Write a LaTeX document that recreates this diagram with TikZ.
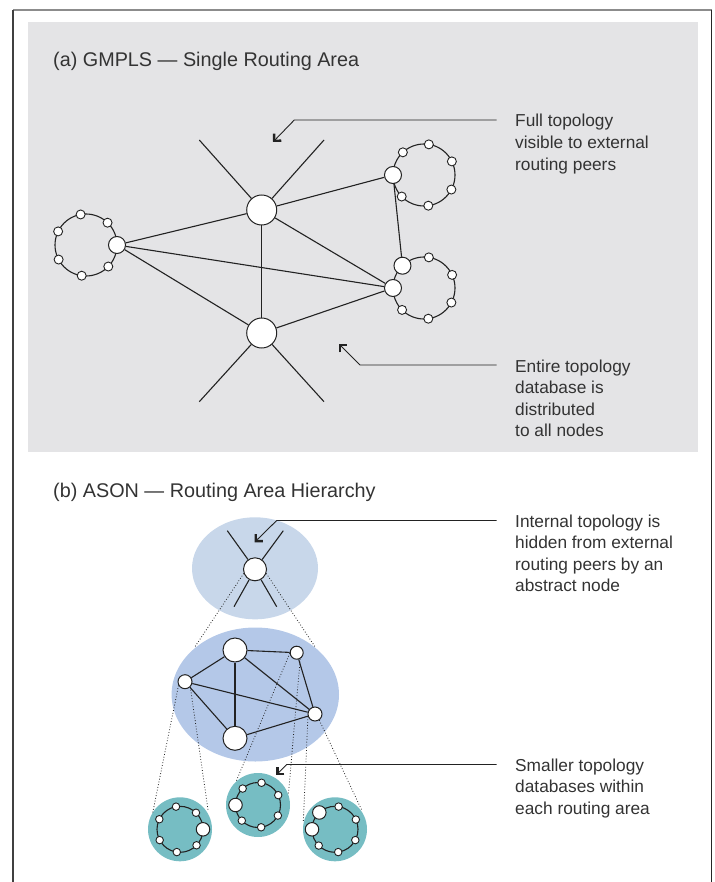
\documentclass[tikz,border=0pt]{standalone}
\usepackage{fontspec}
\setmainfont{Liberation Sans}
\usetikzlibrary{calc,arrows.meta}
\definecolor{ink}{HTML}{222222}
\definecolor{txt}{HTML}{333333}
\definecolor{panelgrey}{HTML}{E4E4E6}
\definecolor{areaA}{HTML}{C8D7EA}
\definecolor{areaB}{HTML}{B4C8E8}
\definecolor{areaC}{HTML}{76BDC3}
\newcommand\ringnodes[4]{%
  \foreach \a [count=\i] in {#4} \node[smN] (#3\i) at ($(#1)+(\a:#2)$) {};}
\newcommand\ringnodesB[4]{%
  \foreach \a [count=\i] in {#4} \node[tinyN] (#3\i) at ($(#1)+(\a:#2)$) {};}
\begin{document}
\begin{tikzpicture}[x=1pt,y=-1pt,
  edge/.style={line width=1.1pt, draw=ink},
  ringline/.style={line width=1.1pt, draw=ink},
  dots/.style={line width=0.8pt, draw=ink, dotted},
  bigN/.style={circle, draw=ink, fill=white, line width=1pt, inner sep=0pt, minimum size=30pt},
  abN/.style={circle, draw=ink, fill=white, line width=1pt, inner sep=0pt, minimum size=23pt},
  mbigN/.style={circle, draw=ink, fill=white, line width=1pt, inner sep=0pt, minimum size=24pt},
  midN/.style={circle, draw=ink, fill=white, line width=1pt, inner sep=0pt, minimum size=17pt},
  msmN/.style={circle, draw=ink, fill=white, line width=1pt, inner sep=0pt, minimum size=14pt},
  rbN/.style={circle, draw=ink, fill=white, line width=1pt, inner sep=0pt, minimum size=13.5pt},
  smN/.style={circle, draw=ink, fill=white, line width=0.9pt, inner sep=0pt, minimum size=9pt},
  tinyN/.style={circle, draw=ink, fill=white, line width=0.9pt, inner sep=0pt, minimum size=7.5pt},
  leader/.style={line width=0.9pt, draw=ink, -{Straight Barb[length=5pt,width=10pt,line width=2.4pt]}},
  note/.style={font=\fontsize{17.3}{21.6}\selectfont, text=txt, align=left, anchor=base west, inner sep=0pt},
  title/.style={font=\fontsize{19.8}{23}\selectfont, text=txt, anchor=base west, inner sep=0pt}
]
\useasboundingbox (0,0) rectangle (714,882);
% frame
\draw[line width=1.2pt, draw=black!45] (13,10) -- (712,10);
\draw[line width=1.2pt, draw=black!75] (13,10) -- (13,882);
\draw[line width=1.4pt, draw=black!85] (711.5,10) -- (711.5,882);
% panel (a)
\fill[panelgrey] (28,22) rectangle (698,452);
\node[title] (ta) at (53,67) {(a) GMPLS — Single Routing Area};

% rings (a)
\coordinate (c1) at (86,245);
\coordinate (c2) at (424,175);
\coordinate (c3) at (424,288);
\draw[ringline] (c1) circle (31pt);
\draw[ringline] (c2) circle (31pt);
\draw[ringline] (c3) circle (31pt);

\node[bigN] (T) at (261.7,210) {};
\node[bigN] (B) at (261.7,333) {};
\node[midN] (L) at ($(c1)+(0:31pt)$) {};
\node[midN] (UR) at ($(c2)+(180:31pt)$) {};
\node[midN] (LR1) at ($(c3)+(134:31pt)$) {};
\node[midN] (LR2) at ($(c3)+(180:31pt)$) {};
\ringnodes{c1}{31pt}{l}{46,100,154,208,262,316}
\ringnodes{c2}{31pt}{u}{133,81,26,-28,-82,-136}
\ringnodes{c3}{31pt}{d}{81,25,-28,-82,-135}

\coordinate (s1) at (199.3,140);
\coordinate (s2) at (324,140);
\coordinate (s3) at (199.3,401.7);
\coordinate (s4) at (324,401.7);
\draw[edge] (T) -- (s1);
\draw[edge] (T) -- (s2);
\draw[edge] (B) -- (s3);
\draw[edge] (B) -- (s4);
\draw[edge] (T) -- (L);
\draw[edge] (T) -- (UR);
\draw[edge] (T) -- (LR2);
\draw[edge] (T) -- (B);
\draw[edge] (L) -- (LR2);
\draw[edge] (L) -- (B);
\draw[edge] (B) -- (LR2);
\draw[edge] (UR) -- (LR1);

% annotations (a)
\coordinate (a1s) at (496.7,120);
\coordinate (a1k) at (294.3,120);
\coordinate (a1t) at (273,142);
\draw[leader] (a1s) -- (a1k) -- (a1t);
\node[note] (n1) at (515,170.2) {Full topology\\visible to external\\routing peers};
\coordinate (a2s) at (496.7,365);
\coordinate (a2k) at (360,365);
\coordinate (a2t) at (339,344);
\draw[leader] (a2s) -- (a2k) -- (a2t);
\node[note] (n2) at (515,436.8) {Entire topology\\database is\\distributed\\to all nodes};

% panel (b)
\node[title] (tb) at (53,497) {(b) ASON — Routing Area Hierarchy};
\fill[areaA] (255,568.3) ellipse [x radius=63pt, y radius=51pt];
\fill[areaB] (255.3,694.5) ellipse [x radius=83.7pt, y radius=67pt];

\node[abN] (A) at (255,569.3) {};
\coordinate (p1) at (227.3,530.7);
\coordinate (p2) at (283.3,530.7);
\coordinate (p3) at (234,606.7);
\coordinate (p4) at (276.7,606.7);
\draw[edge] (A) -- (p1);
\draw[edge] (A) -- (p2);
\draw[edge] (A) -- (p3);
\draw[edge] (A) -- (p4);
\coordinate (q1) at (195,646.7);
\coordinate (q2) at (315,646.7);
\draw[dots] (A.200) -- (q1);
\draw[dots] (A.340) -- (q2);

\node[mbigN] (M1) at (235,650) {};
\node[circle, draw=ink, fill=white, line width=1pt, inner sep=0pt, minimum size=13pt] (M2) at (296.7,652.7) {};
\node[msmN] (M3) at (185,681.7) {};
\node[msmN] (M4) at (315,714) {};
\node[mbigN] (M5) at (235,738.3) {};
\draw[edge] (M1) -- (M2);
\draw[edge] (M1) -- (M3);
\draw[edge] (M1) -- (M5);
\draw[edge] (M1) -- (M4);
\draw[edge] (M3) -- (M4);
\draw[edge] (M3) -- (M5);
\draw[edge] (M5) -- (M4);
\draw[edge] (M2) -- (M4);

% bottom areas
\coordinate (k1) at (180,829.3);
\coordinate (k2) at (258,805);
\coordinate (k3) at (335,829.3);
\fill[areaC] (k1) circle (32pt);
\fill[areaC] (k2) circle (32pt);
\fill[areaC] (k3) circle (32pt);
\coordinate (e1) at (152.7,812.7);
\coordinate (e2) at (208.3,811.7);
\coordinate (e3) at (236,781.7);
\coordinate (e4) at (288.3,795);
\coordinate (e5) at (303.3,821.7);
\coordinate (e6) at (361.7,810);
\draw[dots] (M3.210) -- (e1);
\draw[dots] (M3.315) -- (e2);
\draw[dots] (M2.185) -- (e3);
\draw[dots] (M2.300) -- (e4);
\draw[dots] (M4.200) -- (e5);
\draw[dots] (M4.305) -- (e6);

\draw[ringline] (k1) circle (23pt);
\draw[ringline] (k2) circle (22.5pt);
\draw[ringline] (k3) circle (23pt);
\node[rbN] (K1) at ($(k1)+(0:23pt)$) {};
\node[rbN] (K2) at ($(k2)+(180:22.5pt)$) {};
\node[rbN] (K3a) at ($(k3)+(133:23pt)$) {};
\node[rbN] (K3b) at ($(k3)+(180:23pt)$) {};
\ringnodesB{k1}{23pt}{x}{46,100,154,208,262,316}
\ringnodesB{k2}{22.5pt}{y}{133,81,26,-28,-82,-136}
\ringnodesB{k3}{23pt}{z}{81,25,-28,-82,-135}

% annotations (b)
\coordinate (b1s) at (496.7,520.5);
\coordinate (b1k) at (276.7,520.5);
\coordinate (b1t) at (254.5,542.3);
\draw[leader] (b1s) -- (b1k) -- (b1t);
\node[note] (n3) at (515,591.8) {Internal topology is\\hidden from external\\routing peers by an\\abstract node};
\coordinate (b2s) at (496.7,764.5);
\coordinate (b2k) at (286.7,764.5);
\coordinate (b2t) at (276.2,775);
\draw[leader] (b2s) -- (b2k) -- (b2t);
\node[note] (n4) at (515,814.2) {Smaller topology\\databases within\\each routing area};
\end{tikzpicture}
\end{document}
